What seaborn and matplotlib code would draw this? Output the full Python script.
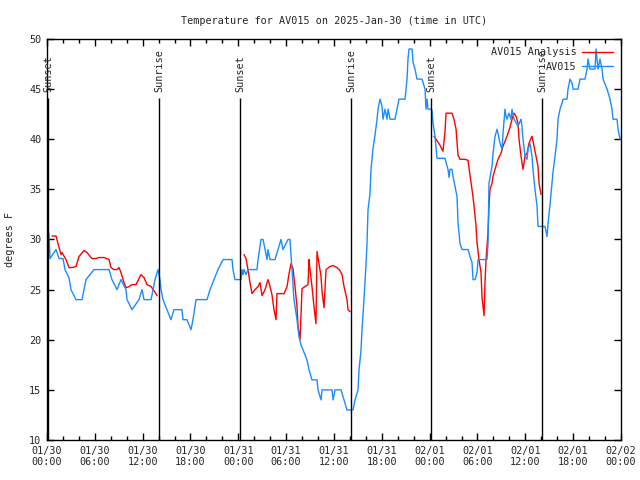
import pandas as pd
import numpy as np
from matplotlib import pyplot as plt
import matplotlib.dates as mdates
from matplotlib.ticker import MultipleLocator
import seaborn as sns

start = pd.Timestamp('2025-01-30 00:00')

# observed station temps (hours after 01/30 00:00 UTC, deg F)
obs_hours = [0.13, 0.25, 0.38, 1.13, 1.51, 2.01, 2.26, 2.76, 3.01, 3.64, 4.39, 4.64, 4.89, 5.90, 7.78, 8.15,
             8.78, 9.28, 9.91, 10.04, 10.66, 11.54, 11.92, 12.17, 13.05, 13.30, 13.55, 13.92, 14.17, 14.30,
             14.55, 14.80, 15.05, 15.55, 15.93, 16.93, 17.06, 17.56, 17.81, 18.06, 18.31, 18.69, 20.07, 20.45,
             20.95, 21.20, 21.45, 22.08, 23.21, 23.33, 23.58, 24.34, 24.46, 24.59, 24.71, 24.96, 25.21, 26.34,
             26.47, 26.84, 27.10, 27.35, 27.60, 27.72, 27.97, 28.60, 28.98, 29.35, 29.60, 30.23, 30.48, 30.73,
             30.98, 31.36, 31.61, 31.86, 32.11, 32.61, 32.87, 33.24, 33.87, 34.00, 34.37, 34.50, 35.75, 35.88,
             36.13, 36.88, 37.26, 37.63, 38.38, 38.64, 39.01, 39.14, 39.39, 39.51, 39.76, 40.02, 40.14, 40.27,
             40.52, 40.64, 40.89, 41.14, 41.40, 41.52, 41.77, 42.02, 42.15, 42.40, 42.65, 42.78, 43.03, 43.65,
             43.90, 44.15, 44.91, 45.16, 45.28, 45.41, 45.79, 45.91, 46.16, 46.41, 47.04, 47.42, 47.54, 47.67,
             47.79, 48.17, 48.29, 48.42, 48.67, 48.92, 49.92, 50.05, 50.30, 50.43, 50.55, 50.80, 50.93, 51.18,
             51.43, 51.56, 51.81, 52.06, 52.81, 53.06, 53.31, 53.44, 53.69, 53.94, 54.07, 55.19, 55.32, 55.44,
             55.82, 55.95, 56.20, 56.45, 56.57, 56.82, 57.08, 57.20, 57.45, 57.58, 57.70, 57.95, 58.20, 58.33,
             58.58, 59.08, 59.46, 59.58, 59.71, 59.96, 60.21, 60.34, 60.59, 60.84, 60.96, 61.21, 61.47, 61.59,
             62.47, 62.72, 62.85, 63.10, 63.35, 63.47, 63.72, 63.97, 64.10, 64.35, 64.60, 64.73, 65.23, 65.35,
             65.61, 65.86, 65.98, 66.61, 66.86, 67.49, 67.74, 67.86, 68.11, 68.74, 68.87, 69.12, 69.37, 69.62,
             69.75, 70.25, 70.62, 70.87, 71.00, 71.50, 71.63, 71.88]
obs_temp = [30.9, 30.4, 28.1, 29.0, 28.1, 28.1, 27, 26.2, 25, 24, 24, 25, 26, 27, 27, 26,
            25, 26, 25, 24, 23, 24, 25, 24, 24, 25, 26, 27, 26, 25,
            24, 23.5, 23, 22, 23, 23, 22, 22, 21.5, 21, 22, 24, 24, 25,
            26, 26.5, 27, 28, 28, 27, 26, 26, 27, 26.5, 27, 26.5, 27, 27,
            28, 30, 30, 29, 28, 29, 28, 28, 29, 30, 29, 30, 30, 27,
            24, 22, 20.3, 19.5, 19, 18, 17, 16, 16, 15, 14, 15, 15, 14,
            15, 15, 14, 13, 13, 14, 15, 17, 19, 21, 24, 27.6, 29.6, 33,
            34.6, 37, 39, 40.4, 42, 43, 44, 43.3, 42, 43, 42, 43, 42, 42,
            43, 44, 44, 46, 48, 49, 49, 47.7, 47, 46, 46, 45, 43, 44,
            43, 43, 42.9, 41.6, 40.3, 38.1, 38.1, 37.7, 37, 36.2, 37, 37, 36.3, 35.3,
            34.3, 31.6, 29.6, 29, 29, 28.3, 27.7, 26, 26, 26.7, 28, 28, 29.6, 35.6,
            37.3, 38.6, 40.3, 41, 40.6, 39.6, 39, 40.6, 43, 42.3, 42, 42.6, 42, 43,
            42, 41.3, 42, 41.3, 40, 38.3, 38, 39, 39.6, 38.3, 37, 35, 33.3, 31.3,
            31.3, 30.3, 31.6, 33.5, 35.7, 36.7, 38.3, 40, 42, 43, 43.6, 44, 44, 45,
            46, 45.6, 45, 45, 46, 46, 47, 48, 47, 47, 49, 47, 48, 47,
            46, 45, 44, 43, 42, 42, 41, 40]

# analysis, three separate pieces
ana1_hours = [0.63, 1.13, 1.51, 1.76, 1.88, 2.38, 2.76, 3.14, 3.64, 4.01, 4.64, 5.02, 5.64, 6.15, 6.52, 7.15,
              7.78, 8.03, 8.40, 8.78, 9.03, 9.28, 9.66, 9.91, 10.29, 10.66, 11.16, 11.79, 12.17, 12.54, 13.05,
              13.42, 13.80]
ana1_temp = [30.35, 30.35, 29.2, 28.5, 28.7, 28, 27.2, 27.2, 27.3, 28.3, 28.9, 28.7, 28.1, 28.1, 28.2, 28.2,
             28, 27.2, 27, 27, 27.2, 26.7, 25.7, 25.2, 25.3, 25.5, 25.5, 26.5, 26.2, 25.5, 25.3,
             24.9, 24.4]
ana2_hours = [24.71, 24.96, 25.21, 25.46, 25.72, 26.09, 26.47, 26.72, 26.97, 27.35, 27.72, 27.85, 28.22, 28.47,
              28.73, 28.85, 29.73, 30.11, 30.36, 30.61, 30.86, 31.11, 31.36, 31.49, 31.74, 31.99, 32.36, 32.74,
              32.87, 32.99, 33.24, 33.49, 33.74, 33.87, 34.12, 34.37, 34.50, 34.75, 35.00, 35.50, 35.88, 36.38,
              36.75, 37.00, 37.26, 37.63, 37.76, 38.01]
ana2_temp = [28.5, 28.1, 27, 25.7, 24.6, 25, 25.3, 25.7, 24.4, 25, 26, 25.7, 24.5, 23,
             22, 24.6, 24.6, 25.3, 26.6, 27.6, 27.1, 25.3, 23.3, 21.3, 20, 25.1, 25.3, 25.5,
             28, 27, 25.3, 23.3, 21.6, 28.8, 27.6, 26.3, 24.8, 23.2, 27, 27.3, 27.4, 27.2,
             26.9, 26.5, 25.3, 24, 23, 22.8]
ana3_hours = [48.54, 48.80, 49.30, 49.67, 49.92, 50.05, 50.80, 51.05, 51.31, 51.43, 51.56, 51.81, 52.43, 52.81,
              53.06, 53.31, 53.56, 53.81, 53.94, 54.19, 54.44, 54.57, 54.82, 54.94, 55.07, 55.32, 55.44, 55.57,
              55.82, 55.95, 56.20, 56.57, 56.95, 57.20, 57.70, 58.08, 58.33, 58.58, 58.83, 59.08, 59.21, 59.46,
              59.71, 59.96, 60.21, 60.46, 60.71, 60.84, 61.09, 61.34, 61.59, 61.72, 61.97]
ana3_temp = [40.3, 40, 39.4, 38.8, 40.7, 42.6, 42.6, 42, 41, 39.7, 38.4, 38, 38, 37.9,
             36.4, 35, 33.4, 31.4, 29.7, 28, 26.7, 24.2, 22.4, 25.7, 28, 30.7, 33.3, 35,
             35.6, 36.3, 37, 38, 38.6, 39.3, 40.3, 41.2, 42, 42.6, 42.3, 41.6, 40, 38.3,
             37, 38.3, 38.6, 39.6, 40.1, 40.3, 39.3, 38.3, 37.3, 35.6, 34.5]

sunset_hours = [0.16, 24.25, 48.17]
sunrise_hours = [14.09, 38.17, 62.13]


def to_time(hours):
    return start + pd.to_timedelta(hours, unit='h')


sns.set_style('ticks')
plt.rcParams['font.family'] = ['DejaVu Sans Mono']
plt.rcParams['font.size'] = 7.3

fig = plt.figure(figsize=(6.4, 4.8), dpi=100)
ax = fig.add_axes([47 / 640, 40 / 480, 574 / 640, 401 / 480])

red = '#ff0000'
blue = '#1a8cff'

for i, (h, t) in enumerate([(ana1_hours, ana1_temp), (ana2_hours, ana2_temp), (ana3_hours, ana3_temp)]):
    sns.lineplot(x=to_time(h), y=t, ax=ax, color=red, lw=1, estimator=None, sort=False,
                 label='AV015 Analysis' if i == 0 else None)
sns.lineplot(x=to_time(obs_hours), y=obs_temp, ax=ax, color=blue, lw=1, estimator=None, sort=False,
             label='AV015')

# sun events
for name, hrs in [('Sunset', sunset_hours), ('Sunrise', sunrise_hours)]:
    for h in hrs:
        t = to_time(h)
        ax.vlines(t, 10, 44.1, color='black', lw=1)
        ax.text(t, 44.7, name, rotation=90, ha='center', va='bottom', fontsize=7.3)

ax.set_xlim(start, start + pd.Timedelta(hours=72))
ax.set_ylim(10, 50)
ax.xaxis.set_major_locator(mdates.HourLocator(byhour=[0, 6, 12, 18]))
ax.xaxis.set_minor_locator(mdates.HourLocator(byhour=range(0, 24, 2)))
ax.xaxis.set_major_formatter(mdates.DateFormatter('%m/%d\n%H:%M'))
ax.yaxis.set_major_locator(MultipleLocator(5))
ax.tick_params(which='both', direction='in', top=True, right=True, color='black', width=1, labelsize=7.3)
ax.tick_params(which='major', length=5, pad=4)
ax.tick_params(which='minor', length=3)
for s in ax.spines.values():
    s.set_color('black')
    s.set_linewidth(1)

ax.set_xlabel('')
ax.set_ylabel('degrees F', labelpad=10)
ax.set_title('Temperature for AV015 on 2025-Jan-30 (time in UTC)', fontsize=7.3, pad=11)
ax.legend(loc='upper right', frameon=False, markerfirst=False, handlelength=3, handletextpad=0.6,
          labelspacing=0.45, borderaxespad=0.4, fontsize=7.3)

plt.savefig('out.png', dpi=100)
